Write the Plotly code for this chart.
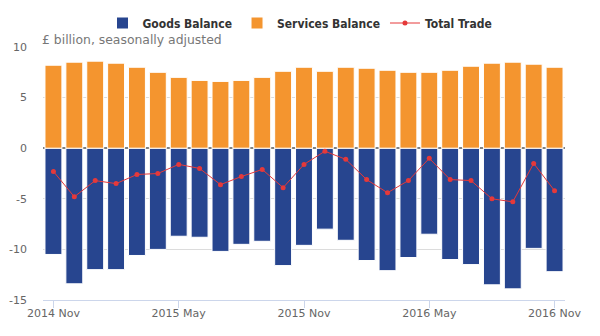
import plotly.graph_objects as go

# Monthly UK trade balances, £ billion, seasonally adjusted
months = [
    "2014 Nov", "2014 Dec", "2015 Jan", "2015 Feb", "2015 Mar", "2015 Apr",
    "2015 May", "2015 Jun", "2015 Jul", "2015 Aug", "2015 Sep", "2015 Oct",
    "2015 Nov", "2015 Dec", "2016 Jan", "2016 Feb", "2016 Mar", "2016 Apr",
    "2016 May", "2016 Jun", "2016 Jul", "2016 Aug", "2016 Sep", "2016 Oct",
    "2016 Nov",
]
goods_balance = [
    -10.5, -13.4, -12.0, -12.0, -10.6, -10.0, -8.7, -8.8, -10.2, -9.5, -9.2, -11.6,
    -9.6, -8.0, -9.1, -11.1, -12.1, -10.8, -8.5, -11.0, -11.5, -13.5, -13.9, -9.9,
    -12.2,
]
services_balance = [
    8.2, 8.5, 8.6, 8.4, 8.0, 7.5, 7.0, 6.7, 6.6, 6.7, 7.0, 7.6,
    8.0, 7.6, 8.0, 7.9, 7.7, 7.5, 7.5, 7.7, 8.1, 8.4, 8.5, 8.3,
    8.0,
]
total_trade = [
    -2.3, -4.8, -3.2, -3.5, -2.6, -2.5, -1.6, -2.0, -3.6, -2.8, -2.1, -3.9,
    -1.6, -0.3, -1.1, -3.1, -4.4, -3.2, -1.0, -3.1, -3.2, -5.0, -5.3, -1.5,
    -4.2,
]
x_tick_labels = ["2014 Nov", "2015 May", "2015 Nov", "2016 May", "2016 Nov"]
y_tick_values = [-15, -10, -5, 0, 5, 10]

FONT = "DejaVu Sans"
LEGEND_FONT = "DejaVu Sans Condensed, DejaVu Sans"
GRID = "#dcdcdc"
AXIS_BLUE = "#ccd6eb"

fig = go.Figure()
fig.add_trace(go.Bar(
    name="Goods Balance", x=months, y=goods_balance,
    marker=dict(color="#27458f", line=dict(color="white", width=1)),
))
fig.add_trace(go.Bar(
    name="Services Balance", x=months, y=services_balance,
    marker=dict(color="#f4952f", line=dict(color="white", width=1)),
))
fig.add_trace(go.Scatter(
    name="Total Trade", x=months, y=total_trade, mode="lines+markers",
    line=dict(color="#e5393a", width=1),
    marker=dict(color="#e5393a", size=5),
))

fig.add_annotation(
    text="£ billion, seasonally adjusted", xref="paper", yref="paper",
    x=0, y=1, xanchor="left", yanchor="bottom", yshift=-2, xshift=-3,
    showarrow=False,
    font=dict(family=FONT, size=12.4, color="#777777"),
)

fig.update_layout(
    width=600, height=336,
    margin=dict(l=43, r=35, t=47, b=36, autoexpand=False),
    paper_bgcolor="white", plot_bgcolor="white",
    barmode="relative", bargap=0.19,
    font=dict(family=FONT, size=11, color="#666666"),
    showlegend=True,
    legend=dict(
        orientation="h", xref="container", yref="container",
        x=0.5, xanchor="center", y=1 - 23 / 336, yanchor="middle",
        font=dict(family=LEGEND_FONT, size=12, color="#333333", weight="bold"),
        itemwidth=30, traceorder="normal", bgcolor="rgba(0,0,0,0)",
    ),
    xaxis=dict(
        type="category", range=[-0.5, 24.5],
        tickmode="array", tickvals=x_tick_labels, ticktext=x_tick_labels,
        ticks="outside", ticklen=7, tickcolor=AXIS_BLUE, tickwidth=1,
        ticklabelstandoff=-4,
        showline=True, linecolor=AXIS_BLUE, linewidth=1,
        showgrid=False, zeroline=False,
        tickfont=dict(family=FONT, size=11, color="#666666"),
    ),
    yaxis=dict(
        range=[-15, 10], tickmode="array", tickvals=y_tick_values,
        ticktext=[str(v) for v in y_tick_values],
        showgrid=True, gridcolor=GRID, gridwidth=1,
        zeroline=True, zerolinecolor="#808080", zerolinewidth=2,
        showline=False, ticks="", ticklabelstandoff=15,
        tickfont=dict(family=FONT, size=11, color="#666666"),
    ),
)

fig.write_html("out.html")
